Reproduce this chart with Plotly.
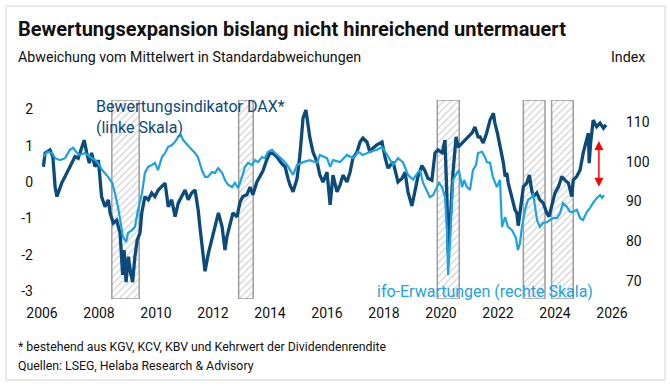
import plotly.graph_objects as go

# ---------------- data ----------------
dax_dates = [2006.05, 2006.11, 2006.28, 2006.38, 2006.46, 2006.52, 2006.57, 2006.69, 2006.81, 2006.92,
             2007.04, 2007.16, 2007.27, 2007.39, 2007.48, 2007.57, 2007.66, 2007.74, 2007.86, 2007.98,
             2008.04, 2008.09, 2008.21, 2008.33, 2008.39, 2008.50, 2008.62, 2008.74, 2008.83, 2008.88,
             2008.95, 2009.03, 2009.11, 2009.18, 2009.26, 2009.34, 2009.44, 2009.50, 2009.61, 2009.73,
             2009.85, 2009.96, 2010.08, 2010.20, 2010.32, 2010.43, 2010.55, 2010.67, 2010.78, 2010.90,
             2011.02, 2011.13, 2011.25, 2011.37, 2011.48, 2011.54, 2011.66, 2011.72, 2011.84, 2011.95,
             2012.07, 2012.19,
             2012.32, 2012.42, 2012.49, 2012.60, 2012.70, 2012.84, 2012.95, 2013.05, 2013.19, 2013.30,
             2013.40, 2013.54, 2013.65, 2013.75, 2013.89, 2014.00, 2014.11, 2014.25, 2014.42, 2014.53,
             2014.63, 2014.70, 2014.81, 2014.95, 2015.05, 2015.16, 2015.26, 2015.33, 2015.40, 2015.51,
             2015.65, 2015.75, 2015.86, 2016.00, 2016.11, 2016.21, 2016.35, 2016.46, 2016.56, 2016.70,
             2016.81, 2016.91, 2017.05, 2017.16, 2017.26, 2017.40, 2017.51, 2017.61, 2017.75, 2017.93,
             2018.04, 2018.14, 2018.32, 2018.49, 2018.63, 2018.74, 2018.84, 2018.98, 2019.09, 2019.19,
             2019.33, 2019.44, 2019.54, 2019.68, 2019.79, 2019.89, 2020.04, 2020.14, 2020.21, 2020.25,
             2020.32, 2020.42, 2020.53, 2020.60, 2020.74, 2020.84, 2020.95, 2021.09, 2021.19, 2021.30,
             2021.37, 2021.48, 2021.60, 2021.72, 2021.84, 2021.89, 2021.98, 2022.07, 2022.13, 2022.19,
             2022.25, 2022.31, 2022.36, 2022.42, 2022.48, 2022.54, 2022.60, 2022.66, 2022.71, 2022.77,
             2022.83, 2022.89, 2023.01, 2023.10, 2023.18, 2023.24, 2023.36, 2023.47, 2023.59, 2023.71,
             2023.79, 2023.88, 2024.00, 2024.12, 2024.24, 2024.35, 2024.47, 2024.59, 2024.64, 2024.76,
             2024.88, 2024.99, 2025.09, 2025.17, 2025.20, 2025.25, 2025.34, 2025.46, 2025.58, 2025.70,
             2025.79]
dax_values = [0.42, 0.80, 0.88, 0.70, -0.13, -0.40, -0.30, -0.03, 0.15, 0.33,
              0.52, 0.70, 0.65, 0.97, 1.15, 0.80, 0.52, 0.80, 0.42, 0.60,
              0.15, -0.40, -0.68, -0.49, -0.85, -1.13, -1.05, -1.40, -2.55, -1.87,
              -2.75, -2.05, -2.50, -2.75, -2.05, -1.60, -1.40, -0.85, -0.40, -0.49,
              -0.30, -0.40, -0.22, -0.13, -0.03, -0.68, -0.49, -0.95, -0.58, -0.40,
              -0.22, -0.49, -0.30, -0.22, -0.77, -1.23, -2.05, -2.45, -1.95, -1.60,
              -1.23, -0.85,
              -1.23, -1.87, -1.50, -1.13, -0.85, -0.96, -0.55, -0.40, -0.35, -0.14,
              -0.35, 0.00, 0.14, 0.30, 0.62, 0.80, 0.78, 0.68, 0.50, 0.42,
              0.10, -0.08, -0.27, 0.10, 0.74, 1.76, 1.98, 1.57, 1.21, 0.82,
              0.55, 0.19, 0.00, 0.27, -0.63, 0.19, -0.27, -0.08, 0.19, 0.00,
              0.27, 0.66, 0.82, 1.10, 1.21, 1.10, 0.82, 0.93, 1.02, 1.10,
              0.66, 0.38, 0.55, 0.00, 0.10, 0.27, -0.27, -0.66, -0.20, 0.15,
              0.45, 0.30, 0.10, 0.05, 0.80, 0.88, 0.80, 1.15, -0.49, -1.95,
              -1.13, 0.25, 1.24, 0.96, 1.07, 1.15, 1.24, 1.35, 1.51, 1.24,
              1.24, 1.07, 1.34, 1.70, 1.89, 1.62, 1.34, 0.97, 0.70, 0.52,
              0.15, 0.25, -0.03, -0.22, -0.40, -0.58, -0.77, -0.85, -1.20, -0.85,
              -0.40, -0.13, -0.03, 0.19, -0.22, -0.40, -0.30, -0.49, -0.58, -0.85,
              -0.95, -0.68, -0.30, -0.13, 0.15, 0.05, -0.03, -0.40, 0.05, 0.15,
              0.33, 0.80, 1.15, 1.34, 0.52, 1.07, 1.70, 1.52, 1.62, 1.48,
              1.57]

ifo_dates = [2006.04, 2006.18, 2006.35, 2006.46, 2006.63, 2006.81, 2006.98, 2007.09, 2007.23, 2007.33,
             2007.51, 2007.68, 2007.86, 2007.96, 2008.11, 2008.21, 2008.32, 2008.46, 2008.56, 2008.67,
             2008.84, 2008.95, 2009.02, 2009.16, 2009.26, 2009.37, 2009.51, 2009.61, 2009.72, 2009.86,
             2009.96, 2010.07, 2010.21, 2010.32, 2010.42, 2010.56, 2010.67, 2010.77, 2010.88, 2010.95,
             2011.09, 2011.19, 2011.37, 2011.47, 2011.61, 2011.72, 2011.82, 2011.96, 2012.07, 2012.18,
             2012.32, 2012.42, 2012.53, 2012.67, 2012.77, 2012.88, 2013.02, 2013.12, 2013.23, 2013.37,
             2013.47, 2013.58, 2013.72, 2013.82, 2013.93, 2014.07, 2014.18, 2014.35, 2014.46, 2014.60,
             2014.70, 2014.81, 2014.95, 2015.16, 2015.40, 2015.65, 2015.75, 2016.00, 2016.11, 2016.21,
             2016.46, 2016.70, 2016.91, 2017.09, 2017.26, 2017.51, 2017.75, 2017.93, 2018.11, 2018.32,
             2018.49, 2018.67, 2018.84, 2019.02, 2019.19, 2019.26, 2019.37, 2019.51, 2019.61, 2019.72,
             2019.86, 2019.93, 2020.04, 2020.14, 2020.21, 2020.25, 2020.32, 2020.39, 2020.42, 2020.56,
             2020.63, 2020.74, 2020.81, 2020.91, 2021.02, 2021.12, 2021.23, 2021.30, 2021.44, 2021.54,
             2021.61, 2021.72, 2021.82, 2021.96, 2022.07, 2022.14, 2022.25, 2022.35, 2022.49, 2022.63,
             2022.70, 2022.77, 2022.84, 2022.95, 2023.05, 2023.19, 2023.23, 2023.37, 2023.47, 2023.58,
             2023.72, 2023.82, 2023.93, 2024.07, 2024.18, 2024.28, 2024.42, 2024.53, 2024.63, 2024.77,
             2024.88, 2024.98, 2025.12, 2025.23, 2025.33, 2025.47, 2025.58, 2025.65, 2025.72]
ifo_values = [101.2, 102.5, 102.2, 100.9, 100.4, 100.9, 103.0, 103.5, 102.2, 101.7,
              102.2, 101.2, 100.4, 99.7, 97.9, 97.2, 96.2, 94.7, 92.1, 88.5,
              81.1, 79.8, 82.1, 82.8, 83.6, 87.9, 92.1, 97.2, 98.7, 99.2,
              99.7, 97.9, 101.2, 102.2, 103.7, 104.2, 105.0, 106.2, 106.7, 105.5,
              104.2, 103.5, 102.2, 101.2, 97.9, 96.2, 96.2, 97.4, 97.2, 98.4,
              97.2, 95.4, 94.2, 93.6, 94.7, 93.4, 96.2, 98.7, 99.7, 99.2,
              100.4, 99.9, 101.2, 100.9, 102.5, 103.0, 102.2, 101.2, 100.4, 99.2,
              97.9, 96.7, 99.2, 99.9, 100.4, 99.7, 101.7, 100.9, 98.7, 100.4,
              99.9, 101.7, 100.9, 102.5, 101.7, 102.5, 103.0, 103.7, 101.7, 99.2,
              100.9, 99.8, 96.7, 95.5, 97.3, 97.9, 94.7, 92.4, 91.1, 91.6,
              93.6, 94.7, 93.6, 91.1, 82.8, 71.5, 80.3, 92.1, 95.4, 97.2,
              97.9, 93.6, 95.4, 93.6, 92.9, 97.9, 99.2, 102.2, 102.5, 101.2,
              99.9, 99.7, 96.2, 93.6, 95.4, 83.6, 86.1, 83.6, 82.8, 80.8,
              77.8, 79.5, 83.6, 87.9, 90.4, 91.1, 92.1, 85.3, 83.6, 84.6,
              84.8, 85.3, 85.8, 85.8, 87.1, 89.6, 88.6, 87.4, 87.4, 87.9,
              85.8, 85.3, 87.4, 88.4, 89.6, 90.9, 91.6, 90.9, 91.6]

# shaded (hatched) periods: start / end in decimal years
period_start = [2008.45, 2012.90, 2019.87, 2022.89, 2023.88]
period_end = [2009.41, 2013.41, 2020.64, 2023.65, 2024.64]

x_ticks = [2006, 2008, 2010, 2012, 2014, 2016, 2018, 2020, 2022, 2024, 2026]
left_ticks = [-3, -2, -1, 0, 1, 2]
right_ticks = [70, 80, 90, 100, 110]

# ---------------- styling ----------------
FONT = "Roboto"
DARK = "#0b4a7a"
LIGHT = "#1ba2e2"
HATCH = "#9d9d9d"
LEFT_RANGE = [-3.214, 2.253]
RIGHT_RANGE = [65.47, 115.53]

fig = go.Figure()

centers = [(a + b) / 2 for a, b in zip(period_start, period_end)]
widths = [b - a for a, b in zip(period_start, period_end)]
fig.add_trace(go.Bar(
    x=centers, width=widths,
    y=[LEFT_RANGE[1] - LEFT_RANGE[0]] * len(centers),
    base=[LEFT_RANGE[0]] * len(centers),
    marker=dict(color="white",
                pattern=dict(shape="/", fgcolor=HATCH, bgcolor="white", size=5, solidity=0.22),
                line=dict(color=HATCH, width=1.5)),
    hoverinfo="skip", showlegend=False, yaxis="y"))

fig.add_trace(go.Scatter(x=dax_dates, y=dax_values, mode="lines",
                         line=dict(color=DARK, width=3.3), yaxis="y", showlegend=False))
fig.add_trace(go.Scatter(x=ifo_dates, y=ifo_values, mode="lines",
                         line=dict(color=LIGHT, width=2.2), yaxis="y2", showlegend=False))

tickfont = dict(family=FONT, size=14, color="#111111")
fig.update_layout(
    width=670, height=387,
    margin=dict(l=42, r=58, t=100, b=88),
    paper_bgcolor="white", plot_bgcolor="white",
    showlegend=False,
    xaxis=dict(range=[2006, 2026], tickvals=x_ticks, ticktext=[str(t) for t in x_ticks],
               showgrid=False, zeroline=False, showline=False, ticks="",
               tickfont=tickfont, ticklabelstandoff=4),
    yaxis=dict(range=LEFT_RANGE, tickvals=left_ticks, ticktext=[str(t) for t in left_ticks],
               showgrid=False, zeroline=False, showline=False, ticks="",
               tickfont=tickfont, ticklabelstandoff=8),
    yaxis2=dict(range=RIGHT_RANGE, tickvals=right_ticks, ticktext=[str(t) for t in right_ticks],
                overlaying="y", side="right",
                showgrid=False, zeroline=False, showline=False, ticks="",
                tickfont=tickfont, ticklabelstandoff=13),
)

def px_x(p):
    return (p - 42) / 570.0

def px_y(p):
    return (299 - p) / 199.0

ann = []
ann.append(dict(text="<b>Bewertungsexpansion bislang nicht hinreichend untermauert</b>",
                x=px_x(16), y=px_y(29), xref="paper", yref="paper", xanchor="left", yanchor="middle",
                showarrow=False, font=dict(family=FONT, size=20, color="#111111")))
ann.append(dict(text="Abweichung vom Mittelwert in Standardabweichungen",
                x=px_x(16), y=px_y(57), xref="paper", yref="paper", xanchor="left", yanchor="middle",
                showarrow=False, font=dict(family=FONT, size=14.2, color="#111111")))
ann.append(dict(text="Index",
                x=px_x(609), y=px_y(57), xref="paper", yref="paper", xanchor="left", yanchor="middle",
                showarrow=False, font=dict(family=FONT, size=14.2, color="#111111")))
ann.append(dict(text="Bewertungsindikator DAX*<br>(linke Skala)",
                x=px_x(94), y=px_y(117), xref="paper", yref="paper", xanchor="left", yanchor="middle",
                align="left", showarrow=False, font=dict(family=FONT, size=16, color=DARK)))
ann.append(dict(text="ifo-Erwartungen (rechte Skala)",
                x=px_x(375), y=px_y(291), xref="paper", yref="paper", xanchor="left", yanchor="middle",
                showarrow=False, font=dict(family=FONT, size=16, color=LIGHT)))
ann.append(dict(text="* bestehend aus KGV, KCV, KBV und Kehrwert der Dividendenrendite",
                x=px_x(16), y=px_y(347), xref="paper", yref="paper", xanchor="left", yanchor="middle",
                showarrow=False, font=dict(family=FONT, size=12.3, color="#111111")))
ann.append(dict(text="Quellen: LSEG, Helaba Research &amp; Advisory",
                x=px_x(16), y=px_y(366), xref="paper", yref="paper", xanchor="left", yanchor="middle",
                showarrow=False, font=dict(family=FONT, size=12.3, color="#111111")))
# red double-headed arrow (gap between the two series)
ann.append(dict(text="", x=2025.54, y=1.13, ax=2025.54, ay=-0.17,
                xref="x", yref="y", axref="x", ayref="y",
                showarrow=True, arrowside="end+start", arrowhead=2, startarrowhead=2,
                arrowsize=1.2, startarrowsize=1.2, arrowwidth=1.5, arrowcolor="#ff0000"))
fig.update_layout(annotations=ann)

# light frame around the figure
fig.add_shape(type="rect", xref="paper", yref="paper",
              x0=px_x(6), x1=px_x(665), y0=px_y(380), y1=px_y(6),
              line=dict(color="#e2e2e2", width=1.5), fillcolor="rgba(0,0,0,0)", layer="below")

fig.write_html("out.html", config={"displayModeBar": False},
               post_script="document.body.style.margin='0';document.body.style.padding='0';")
